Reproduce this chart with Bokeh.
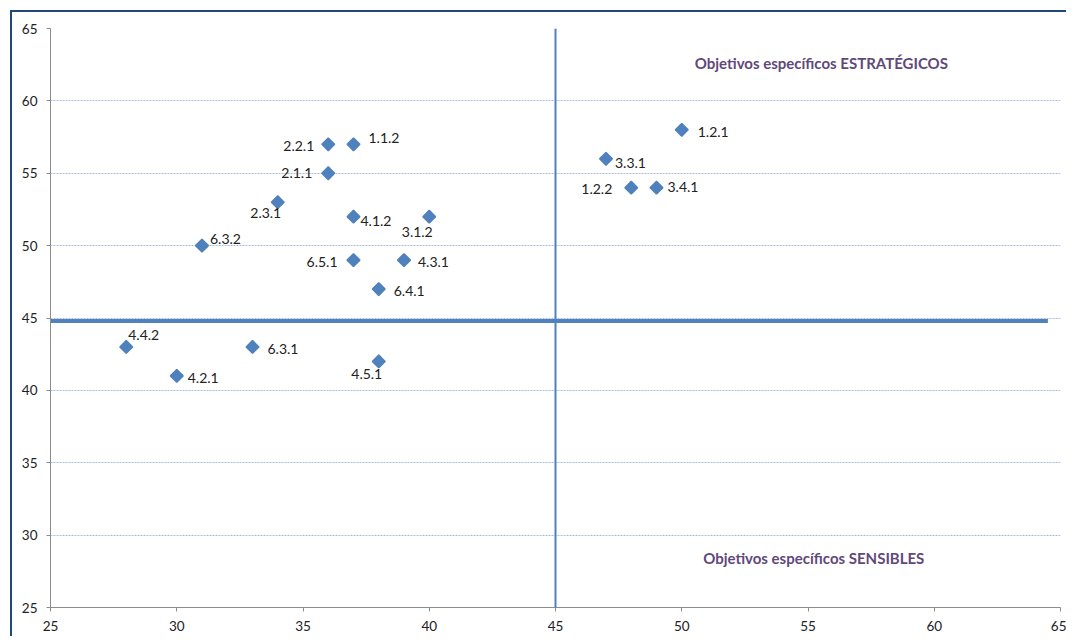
import math
from bokeh.plotting import figure
from bokeh.models import ColumnDataSource, LabelSet, Span, FixedTicker, Label
from bokeh.core.properties import value
from bokeh.embed import file_html
from bokeh.resources import INLINE

# ---- data ----
labels = ["1.1.2", "2.2.1", "2.1.1", "2.3.1", "4.1.2", "3.1.2", "6.3.2", "6.5.1", "4.3.1",
          "6.4.1", "1.2.1", "3.3.1", "1.2.2", "3.4.1", "4.4.2", "6.3.1", "4.2.1", "4.5.1"]
x_vals = [37, 36, 36, 34, 37, 40, 31, 37, 39, 38, 50, 47, 48, 49, 28, 33, 30, 38]
y_vals = [57, 57, 55, 53, 52, 52, 50, 49, 49, 47, 58, 56, 54, 54, 43, 43, 41, 42]
x_ticks = [25, 30, 35, 40, 45, 50, 55, 60, 65]
y_ticks = [25, 30, 35, 40, 45, 50, 55, 60, 65]
h_divider = 44.8
v_divider = 45
quadrant_texts = ["Objetivos específicos  ESTRATÉGICOS", "Objetivos específicos  SENSIBLES"]

# ---- label placement (style only) ----
label_dx = [15, -14, -16, -12, 7, -12, 8, -16, 14, 15, 16, 9, -19, 11, 2, 15, 11, -12]
label_dy = [-6, 2, 0, 11, 4, 15, -7, 2, 2, 2, 2, 4, 1, -1, -12, 2, 2, 13]
label_align = ["left", "right", "right", "center", "left", "center", "left", "right", "left",
               "left", "left", "left", "right", "left", "left", "left", "left", "center"]

src = ColumnDataSource(dict(x=x_vals, y=y_vals, lab=labels, dx=label_dx,
                            dy=[-d for d in label_dy], al=label_align))

p = figure(width=1056, height=626, x_range=(25, 65), y_range=(25, 65),
           output_backend="svg", toolbar_location=None,
           min_border_left=38, min_border_right=8, min_border_top=16, min_border_bottom=31)
p.styles = {"border-top": "2px solid #1F497D", "border-left": "2px solid #1F497D",
            "margin-left": "10px", "margin-top": "10px"}
p.outline_line_color = None
p.background_fill_color = "white"
p.border_fill_color = "white"

# grid
p.xgrid.grid_line_color = None
p.ygrid.grid_line_color = "#A7BDE0"
p.ygrid.grid_line_dash = "2 1"
p.ygrid.grid_line_width = 1
p.ygrid.ticker = FixedTicker(ticks=y_ticks)

# axes
for ax in (p.xaxis[0], p.yaxis[0]):
    ax.axis_line_color = "#8C8C8C"
    ax.major_tick_line_color = "#8C8C8C"
    ax.major_tick_in = 0
    ax.major_tick_out = 4
    ax.minor_tick_line_color = None
    ax.major_label_text_font = "Lato"
    ax.major_label_text_font_size = "13.5px"
    ax.major_label_text_color = "#222222"
p.xaxis[0].ticker = FixedTicker(ticks=x_ticks)
p.yaxis[0].ticker = FixedTicker(ticks=y_ticks)
p.xaxis[0].major_label_standoff = 9
p.yaxis[0].major_label_standoff = 9

# dividers
p.line(x=[25, 64.5], y=[h_divider, h_divider], line_color="#4F81BD", line_width=4)
p.add_layout(Span(location=v_divider, dimension="height", line_color="#4F81BD", line_width=2))

# points
p.scatter(x="x", y="y", source=src, marker="square", size=9, angle=math.pi / 4,
          fill_color="#4F81BD", line_color="#4F81BD", line_width=1.5)

# labels
p.add_layout(LabelSet(x="x", y="y", text="lab", source=src, x_offset="dx", y_offset="dy",
                      text_align="al", text_baseline="middle", text_font=value("Lato"),
                      text_font_size=value("14px"), text_color="#222222"))

# quadrant texts
p.add_layout(Label(x=55.6, y=62.65, text=quadrant_texts[0], text_align="center",
                   text_baseline="middle", text_font="Lato", text_font_style="bold",
                   text_font_size="15px", text_color="#5F497A"))
p.add_layout(Label(x=55.3, y=28.45, text=quadrant_texts[1], text_align="center",
                   text_baseline="middle", text_font="Lato", text_font_style="bold",
                   text_font_size="15px", text_color="#5F497A"))

open("out.html", "w").write(file_html(p, INLINE))
